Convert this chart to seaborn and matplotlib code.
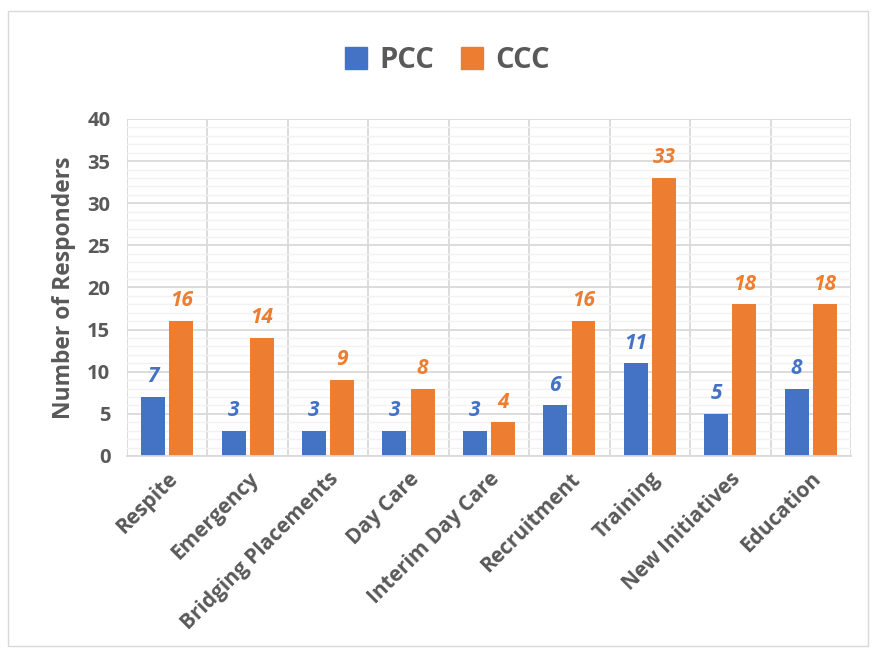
import matplotlib
matplotlib.use("Agg")
import matplotlib.pyplot as plt
import seaborn as sns
import pandas as pd
from matplotlib.patches import Rectangle
from matplotlib.ticker import MultipleLocator

categories = ["Respite", "Emergency", "Bridging Placements", "Day Care",
              "Interim Day Care", "Recruitment", "Training", "New Initiatives", "Education"]
pcc = [7, 3, 3, 3, 3, 6, 11, 5, 8]
ccc = [16, 14, 9, 8, 4, 16, 33, 18, 18]
series = ["PCC", "CCC"]
colors = {"PCC": "#4472C4", "CCC": "#ED7D31"}

df = pd.DataFrame({
    "Category": categories * 2,
    "Series": ["PCC"] * len(categories) + ["CCC"] * len(categories),
    "Value": pcc + ccc,
})

sns.set_theme(style="white")
plt.rcParams['font.family'] = ['Open Sans', 'DejaVu Sans']

fig = plt.figure(figsize=(8.72, 6.48), dpi=100)
ax = fig.add_axes([0.1456, 0.2963, 0.8303, 0.5201])

sns.barplot(data=df, x="Category", y="Value", hue="Series", palette=colors,
            order=categories, hue_order=series, width=0.7, gap=0.15, ax=ax,
            legend=False, saturation=1, linewidth=0)

ax.set_ylim(0, 40)
ax.set_xlim(-0.5, len(categories) - 0.5)
ax.yaxis.set_major_locator(MultipleLocator(5))
ax.yaxis.set_minor_locator(MultipleLocator(1))
ax.grid(axis='y', which='major', color='#D9D9D9', linewidth=1.3)
ax.grid(axis='y', which='minor', color='#F2F2F2', linewidth=1.0)
for xv in [i + 0.5 for i in range(-1, len(categories))]:
    ax.axvline(xv, color='#D9D9D9', linewidth=1.3, zorder=0.5)
ax.set_axisbelow(True)
for s in ax.spines.values():
    s.set_visible(False)
ax.spines['bottom'].set_visible(True)
ax.spines['bottom'].set_color('#D9D9D9')
ax.spines['bottom'].set_linewidth(1.3)

ax.tick_params(axis='both', length=0, colors='#595959', labelsize=14.5)
ax.tick_params(axis='y', pad=12)
for lbl in ax.get_yticklabels():
    lbl.set_fontweight('bold')
ax.set_xticks(range(len(categories)))
ax.set_xticklabels(categories, rotation=45, ha='right', rotation_mode='anchor',
                   fontsize=15, fontweight='bold', color='#595959')
ax.tick_params(axis='x', pad=9)
ax.set_xlabel("")
ax.set_ylabel("Number of Responders", fontsize=16.5, fontweight='bold', color='#595959',
              labelpad=8)

for container, name in zip(ax.containers, series):
    ax.bar_label(container, labels=[str(int(v)) for v in container.datavalues],
                 padding=7, color=colors[name], fontsize=15, fontweight='bold',
                 fontstyle='italic')

# legend
handles = [plt.Line2D([], [], marker='s', linestyle='', markersize=16,
                      color=colors[s]) for s in series]
fig.legend(handles, series, loc='center', bbox_to_anchor=(0.508, 0.907), ncol=2,
           frameon=False, prop={'size': 21, 'weight': 'bold'}, labelcolor='#595959',
           handletextpad=0.1, columnspacing=0.6, handlelength=1.4)

fig.patches.append(Rectangle((0.009, 0.003), 0.986, 0.98, transform=fig.transFigure,
                             fill=False, edgecolor='#D9D9D9', linewidth=1))

fig.savefig("out.png", dpi=100)
